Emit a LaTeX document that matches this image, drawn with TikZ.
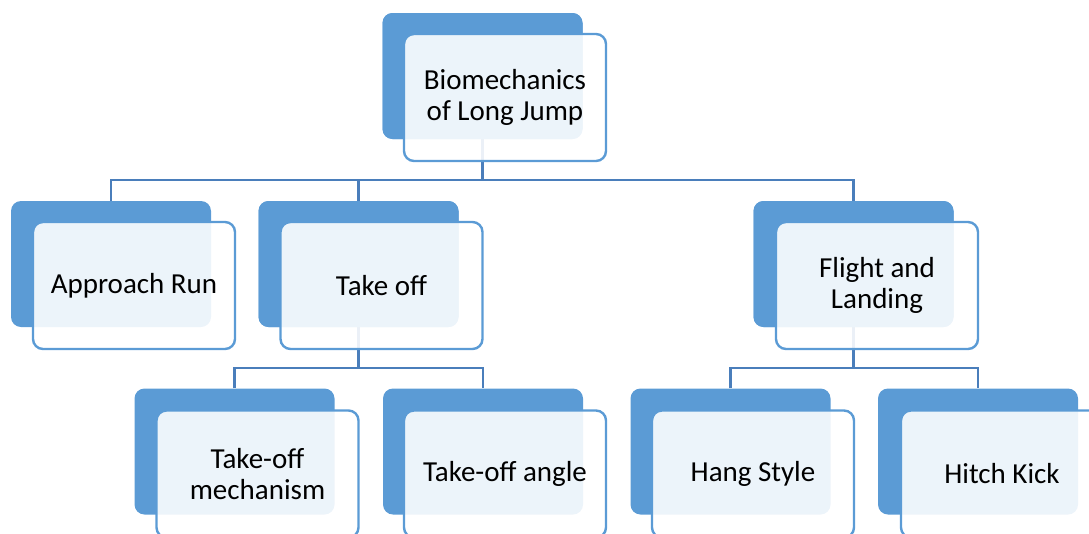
\documentclass[tikz,border=0pt]{standalone}
\usepackage{fontspec}
\setmainfont{Carlito}
\definecolor{bk}{HTML}{5B9BD5}
\definecolor{cn}{HTML}{4A7EBB}
\tikzset{
  backbox/.style={fill=bk, draw=none, rounded corners=10pt, minimum width=200pt, minimum height=126pt, inner sep=0pt},
  frontbox/.style={fill=white, fill opacity=0.89, text opacity=1, draw=bk, line width=2.4pt, rounded corners=10pt,
    minimum width=202pt, minimum height=127pt, align=center, inner sep=2pt, font=\fontsize{29pt}{31pt}\selectfont},
  conn/.style={draw=cn, line width=2.4pt}
}
\begin{document}
\begin{tikzpicture}[x=1pt,y=-1pt]
\useasboundingbox (0,0) rectangle (1089,533);
\clip (0,0) rectangle (1089,533);
% back boxes
\node[backbox] (tb) at (482.5,76) {};
\node[backbox] (ab) at (111,264) {};
\node[backbox] (ob) at (358.5,264) {};
\node[backbox] (fb) at (853.5,264) {};
\node[backbox] (mb) at (234.5,451.5) {};
\node[backbox] (gb) at (483,451.5) {};
\node[backbox] (hb) at (730.5,451.5) {};
\node[backbox] (kb) at (978,451.5) {};
% connectors
\coordinate (h1) at (0,180);
\coordinate (h2) at (0,368);
\draw[conn] (tb.south) -- (tb.south |- h1);
\draw[conn] (ab.north) |- (fb.north |- h1) -- (fb.north);
\draw[conn] (ob.north) -- (ob.north |- h1);
\draw[conn] (ob.south) -- (ob.south |- h2);
\draw[conn] (mb.north) |- (gb.north |- h2) -- (gb.north);
\draw[conn] (fb.south) -- (fb.south |- h2);
\draw[conn] (hb.north) |- (kb.north |- h2) -- (kb.north);
% redraw back boxes over connector starts
\node[backbox] at (tb) {};
\node[backbox] at (ob) {};
\node[backbox] at (fb) {};
% front boxes
\node[frontbox] (tf) at (505,97.5) {Biomechanics\\of Long Jump};
\node[frontbox] (af) at (134,285.5) {Approach Run};
\node[frontbox] (of) at (381.5,285.5) {Take off};
\node[frontbox] (ff) at (877,285.5) {Flight and\\Landing};
\node[frontbox] (mf) at (257.5,474) {Take-off\\mechanism};
\node[frontbox] (gf) at (505,474) {Take-off angle};
\node[frontbox] (hf) at (753,474) {Hang Style};
\node[frontbox] (kf) at (1002,474) {Hitch Kick};
\end{tikzpicture}
\end{document}
